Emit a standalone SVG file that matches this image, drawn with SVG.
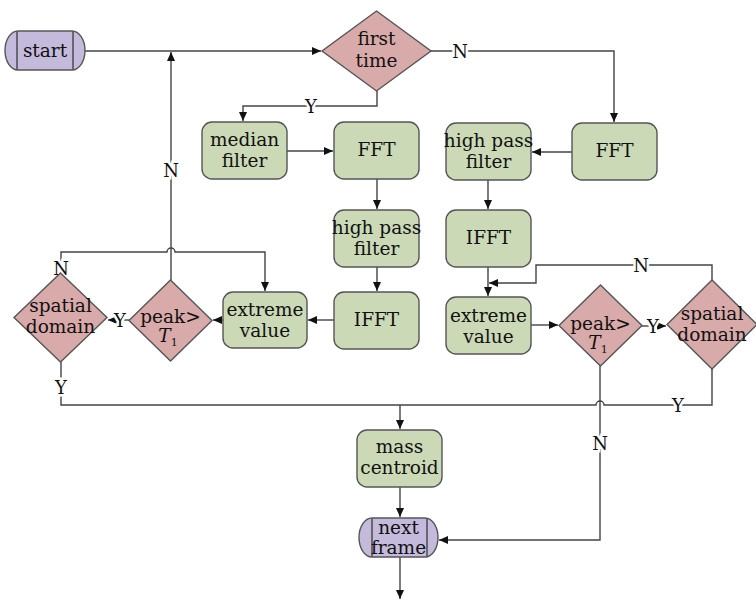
<svg xmlns="http://www.w3.org/2000/svg" width="756" height="600" viewBox="0 0 756 600">
<style>
.proc{fill:#cbd9b6;stroke:#555;stroke-width:1.4}
.dec{fill:#d9aaaa;stroke:#555;stroke-width:1.4}
.term{fill:#c4badb;stroke:#555;stroke-width:1.4}
text{font-family:'DejaVu Serif','Liberation Serif',serif}
.t{font-size:18.5px;fill:#111;text-anchor:middle}
.lbl{font-size:18px;fill:#111;text-anchor:middle;stroke:#fff;stroke-width:5;paint-order:stroke}
.c{fill:none;stroke:#444;stroke-width:1.4}
</style>
<defs>
<marker id="ah" markerUnits="userSpaceOnUse" markerWidth="10" markerHeight="8" refX="9" refY="4" orient="auto">
<path d="M0,0 L9,4 L0,8 Z" fill="#111"/>
</marker>
</defs>
<rect width="756" height="600" fill="#fff"/>
<g id="connectors">
<path class="c" d="M85,51 H321" marker-end="url(#ah)"/>
<path class="c" d="M431,51 H614 V122" marker-end="url(#ah)"/>
<path class="c" d="M377,91 V106 H243 V121" marker-end="url(#ah)"/>
<path class="c" d="M287,151 H333" marker-end="url(#ah)"/>
<path class="c" d="M377,179 V209" marker-end="url(#ah)"/>
<path class="c" d="M377,267 V291" marker-end="url(#ah)"/>
<path class="c" d="M334,320 H308" marker-end="url(#ah)"/>
<path class="c" d="M223,320 H213" marker-end="url(#ah)"/>
<path class="c" d="M129,320 H108" marker-end="url(#ah)"/>
<path class="c" d="M171,280 V52" marker-end="url(#ah)"/>
<path class="c" d="M61,273 V252 H167 a4,4 0 0 1 8,0 H265 V291" marker-end="url(#ah)"/>
<path class="c" d="M61,362 V405 H596 a4,4 0 0 1 8,0 H712 V369"/>
<path class="c" d="M400,405 V429" marker-end="url(#ah)"/>
<path class="c" d="M572,152 H532" marker-end="url(#ah)"/>
<path class="c" d="M488,180 V209" marker-end="url(#ah)"/>
<path class="c" d="M488,267 V296" marker-end="url(#ah)"/>
<path class="c" d="M531,325 H558" marker-end="url(#ah)"/>
<path class="c" d="M642,326 H666" marker-end="url(#ah)"/>
<path class="c" d="M712,280 V265 H536 V283 H489" marker-end="url(#ah)"/>
<path class="c" d="M600,366 V540 H439" marker-end="url(#ah)"/>
<path class="c" d="M400,487 V517" marker-end="url(#ah)"/>
<path class="c" d="M400,557 V599" marker-end="url(#ah)"/>
<text class="lbl" x="460" y="58">N</text>
<text class="lbl" x="311" y="113">Y</text>
<text class="lbl" x="171" y="177">N</text>
<text class="lbl" x="61" y="275">N</text>
<text class="lbl" x="120" y="327">Y</text>
<text class="lbl" x="61" y="394">Y</text>
<text class="lbl" x="641" y="272">N</text>
<text class="lbl" x="653" y="333">Y</text>
<text class="lbl" x="678" y="412">Y</text>
<text class="lbl" x="600" y="450">N</text>
</g>
<g id="start">
<rect class="term" x="5" y="31" width="80" height="39" rx="13" ry="19.5"/>
<path class="c" d="M17,31.5 V69.5 M73,31.5 V69.5" stroke="#555"/>
<text class="t" x="45" y="57">start</text>
</g>
<g id="first-time">
<polygon class="dec" points="376.5,11 431,51 376.5,91 322,51"/>
<text class="t" x="376.5" y="45">first</text>
<text class="t" x="376.5" y="67">time</text>
</g>
<g id="median-filter">
<rect class="proc" x="202" y="122" width="85" height="57" rx="10"/>
<text class="t" x="244.5" y="146">median</text>
<text class="t" x="244.5" y="167">filter</text>
</g>
<g id="fft-left">
<rect class="proc" x="334" y="122" width="85" height="57" rx="10"/>
<text class="t" x="376.5" y="156">FFT</text>
</g>
<g id="hpf-left">
<rect class="proc" x="334" y="210" width="85" height="57" rx="10"/>
<text class="t" x="376.5" y="234">high pass</text>
<text class="t" x="376.5" y="255">filter</text>
</g>
<g id="ifft-left">
<rect class="proc" x="334" y="292" width="85" height="57" rx="10"/>
<text class="t" x="376.5" y="326">IFFT</text>
</g>
<g id="extreme-left">
<rect class="proc" x="223" y="292" width="84" height="56" rx="10"/>
<text class="t" x="265" y="316">extreme</text>
<text class="t" x="265" y="337">value</text>
</g>
<g id="peak-left">
<polygon class="dec" points="170.5,280 212,320.5 170.5,361 129,320.5"/>
<text class="t" x="170.5" y="323">peak&gt;</text>
<text class="t" x="168" y="342" font-style="italic">T<tspan font-size="11" font-style="normal" dy="4">1</tspan></text>
</g>
<g id="spatial-left">
<polygon class="dec" points="60.5,273 107,317.5 60.5,362 14,317.5"/>
<text class="t" x="60.5" y="312">spatial</text>
<text class="t" x="60.5" y="333">domain</text>
</g>
<g id="fft-right">
<rect class="proc" x="572" y="123" width="85" height="57" rx="10"/>
<text class="t" x="614.5" y="157">FFT</text>
</g>
<g id="hpf-right">
<rect class="proc" x="446" y="123" width="85" height="57" rx="10"/>
<text class="t" x="488.5" y="147">high pass</text>
<text class="t" x="488.5" y="168">filter</text>
</g>
<g id="ifft-right">
<rect class="proc" x="446" y="210" width="85" height="57" rx="10"/>
<text class="t" x="488.5" y="244">IFFT</text>
</g>
<g id="extreme-right">
<rect class="proc" x="446" y="297" width="85" height="57" rx="10"/>
<text class="t" x="488.5" y="322">extreme</text>
<text class="t" x="488.5" y="343">value</text>
</g>
<g id="peak-right">
<polygon class="dec" points="600.5,285 642,325.5 600.5,366 559,325.5"/>
<text class="t" x="600.5" y="330">peak&gt;</text>
<text class="t" x="598" y="349" font-style="italic">T<tspan font-size="11" font-style="normal" dy="4">1</tspan></text>
</g>
<g id="spatial-right">
<polygon class="dec" points="712,280 757,324.5 712,369 667,324.5"/>
<text class="t" x="712" y="320">spatial</text>
<text class="t" x="712" y="341">domain</text>
</g>
<g id="mass-centroid">
<rect class="proc" x="357" y="430" width="85" height="57" rx="10"/>
<text class="t" x="399.5" y="453">mass</text>
<text class="t" x="399.5" y="474">centroid</text>
</g>
<g id="next-frame">
<rect class="term" x="359" y="518" width="79" height="39" rx="13" ry="19.5"/>
<path class="c" d="M372,518.5 V556.5 M427,518.5 V556.5" stroke="#555"/>
<text class="t" x="398.5" y="534">next</text>
<text class="t" x="398.5" y="554">frame</text>
</g>
</svg>
